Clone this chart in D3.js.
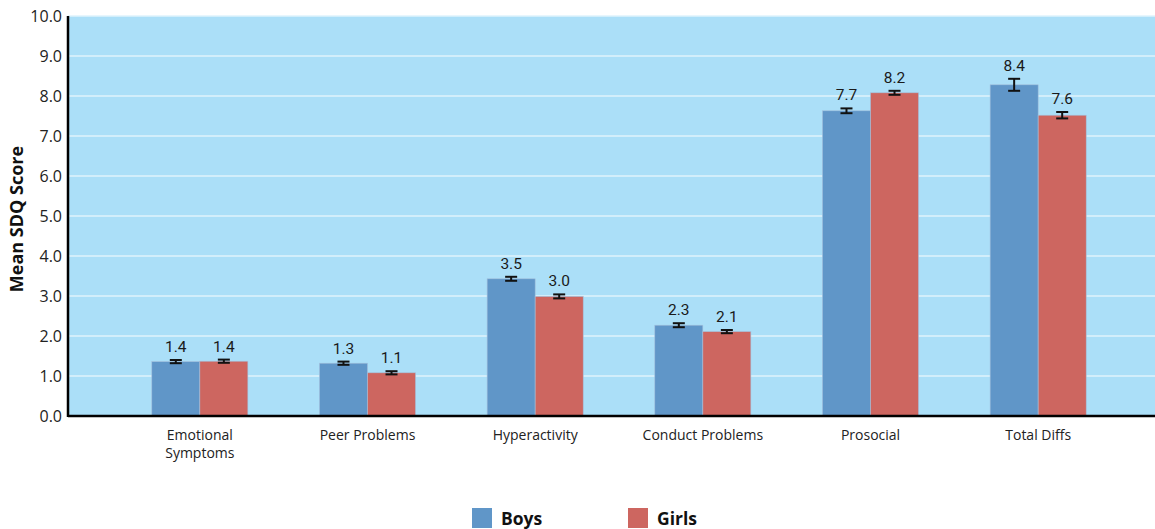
<!DOCTYPE html>
<html>
<head>
<meta charset="utf-8">
<script src="https://cdn.jsdelivr.net/npm/d3@7"></script>
<style>
  body { margin: 0; background: #fff; }
  svg { display: block; }
</style>
</head>
<body>
<div id="chart"></div>
<script>
"use strict";

var categories = ["Emotional Symptoms", "Peer Problems", "Hyperactivity", "Conduct Problems", "Prosocial", "Total Diffs"];
var series = ["Boys", "Girls"];
var boysValues = [1.36, 1.32, 3.43, 2.27, 7.63, 8.28];
var girlsValues = [1.37, 1.08, 2.99, 2.11, 8.08, 7.52];
var boysErrors = [0.04, 0.04, 0.05, 0.05, 0.06, 0.15];
var girlsErrors = [0.04, 0.04, 0.05, 0.04, 0.05, 0.08];
var boysLabels = ["1.4", "1.3", "3.5", "2.3", "7.7", "8.4"];
var girlsLabels = ["1.4", "1.1", "3.0", "2.1", "8.2", "7.6"];
var yTicks = [0, 1, 2, 3, 4, 5, 6, 7, 8, 9, 10];

var colours = { Boys: "#6096c8", Girls: "#cd6660" };
var width = 1155;
var height = 529;
var plotLeft = 68;
var plotTop = 16;
var plotBottom = 416;

var svg = d3.select("#chart").append("svg")
    .attr("width", width)
    .attr("height", height);

var y = d3.scaleLinear().domain([0, 10]).range([plotBottom, plotTop]);

var x0 = d3.scaleBand()
    .domain(categories)
    .range([116, 1122])
    .paddingInner(0.427)
    .paddingOuter(0.2135);

var x1 = d3.scaleBand()
    .domain(series)
    .range([0, x0.bandwidth()]);

//build one row per bar
var rows = [];
categories.forEach(function (c, i) {
    rows.push({ cat: c, s: "Boys", v: boysValues[i], e: boysErrors[i], label: boysLabels[i] });
    rows.push({ cat: c, s: "Girls", v: girlsValues[i], e: girlsErrors[i], label: girlsLabels[i] });
});

//plot background
svg.append("rect")
    .attr("x", plotLeft)
    .attr("y", plotTop)
    .attr("width", width - plotLeft)
    .attr("height", plotBottom - plotTop)
    .style("fill", "#abdff8");

//gridlines
svg.selectAll("line.grid").data(yTicks.slice(1)).enter().append("line")
    .attr("class", "grid")
    .attr("x1", plotLeft).attr("x2", width)
    .attr("y1", function (d) { return y(d); })
    .attr("y2", function (d) { return y(d); })
    .style("stroke", "#dff3fc")
    .style("stroke-width", 1.5);

//bars
svg.selectAll("rect.bar").data(rows).enter().append("rect")
    .attr("class", "bar")
    .attr("x", function (d) { return x0(d.cat) + x1(d.s); })
    .attr("y", function (d) { return y(d.v); })
    .attr("width", x1.bandwidth())
    .attr("height", function (d) { return y(0) - y(d.v); })
    .style("fill", function (d) { return colours[d.s]; })
    .style("stroke", "#a4c0dc")
    .style("stroke-width", 0.6);

//error bars
var err = svg.selectAll("g.err").data(rows).enter().append("g")
    .attr("class", "err")
    .attr("transform", function (d) { return "translate(" + (x0(d.cat) + x1(d.s) + x1.bandwidth() / 2) + ",0)"; });

err.append("line")
    .attr("x1", 0).attr("x2", 0)
    .attr("y1", function (d) { return y(d.v + d.e); })
    .attr("y2", function (d) { return y(d.v - d.e); })
    .style("stroke", "#111").style("stroke-width", 2);

err.append("line")
    .attr("x1", -6).attr("x2", 6)
    .attr("y1", function (d) { return y(d.v + d.e); })
    .attr("y2", function (d) { return y(d.v + d.e); })
    .style("stroke", "#111").style("stroke-width", 2);

err.append("line")
    .attr("x1", -6).attr("x2", 6)
    .attr("y1", function (d) { return y(d.v - d.e); })
    .attr("y2", function (d) { return y(d.v - d.e); })
    .style("stroke", "#111").style("stroke-width", 2);

//value labels
svg.selectAll("text.val").data(rows).enter().append("text")
    .attr("class", "val")
    .attr("x", function (d) { return x0(d.cat) + x1(d.s) + x1.bandwidth() / 2; })
    .attr("y", function (d) { return y(d.v + d.e) - 8; })
    .attr("text-anchor", "middle")
    .style("font-family", "Roboto, sans-serif")
    .style("font-size", "15.5px")
    .style("fill", "#1a1a1a")
    .text(function (d) { return d.label; });

//y axis
var yAxis = svg.append("g")
    .attr("transform", "translate(" + plotLeft + ",0)")
    .call(d3.axisLeft(y).tickValues(yTicks).tickFormat(d3.format(".1f")).tickSize(0).tickPadding(6));
yAxis.select(".domain").remove();
yAxis.selectAll("text")
    .style("font-family", "'Open Sans', sans-serif")
    .style("font-size", "16px")
    .style("fill", "#222");

svg.append("line")
    .attr("x1", plotLeft).attr("x2", plotLeft)
    .attr("y1", plotTop).attr("y2", plotBottom + 1)
    .style("stroke", "#000").style("stroke-width", 2.5);

svg.append("line")
    .attr("x1", plotLeft).attr("x2", width)
    .attr("y1", plotBottom).attr("y2", plotBottom)
    .style("stroke", "#000").style("stroke-width", 2.5);

//x axis labels
var xAxis = svg.append("g")
    .attr("transform", "translate(0," + plotBottom + ")")
    .call(d3.axisBottom(x0).tickSize(0).tickPadding(14));
xAxis.select(".domain").remove();
xAxis.selectAll("text")
    .style("font-family", "'Open Sans', sans-serif")
    .style("font-size", "14px")
    .style("fill", "#222")
    .each(function (d) {
        var t = d3.select(this);
        if (d === "Emotional Symptoms") {
            t.text(null);
            t.append("tspan").attr("x", 0).attr("dy", "0.71em").text("Emotional");
            t.append("tspan").attr("x", 0).attr("dy", "1.3em").text("Symptoms");
            t.attr("dy", null);
        }
    });

//y axis title
svg.append("text")
    .attr("transform", "translate(23,219) rotate(-90)")
    .attr("text-anchor", "middle")
    .style("font-family", "'Open Sans', sans-serif")
    .style("font-size", "18px")
    .style("font-weight", "bold")
    .style("fill", "#111")
    .text("Mean SDQ Score");

//legend
var legendX = d3.scaleOrdinal().domain(series).range([472, 628]);
var legend = svg.selectAll("g.legend").data(series).enter().append("g")
    .attr("class", "legend")
    .attr("transform", function (d) { return "translate(" + legendX(d) + ",508)"; });

legend.append("rect")
    .attr("width", 20).attr("height", 20)
    .style("fill", function (d) { return colours[d]; });

legend.append("text")
    .attr("x", 29).attr("y", 17)
    .style("font-family", "'Open Sans', sans-serif")
    .style("font-size", "17.5px")
    .style("font-weight", "bold")
    .style("fill", "#111")
    .text(function (d) { return d; });
</script>
</body>
</html>
